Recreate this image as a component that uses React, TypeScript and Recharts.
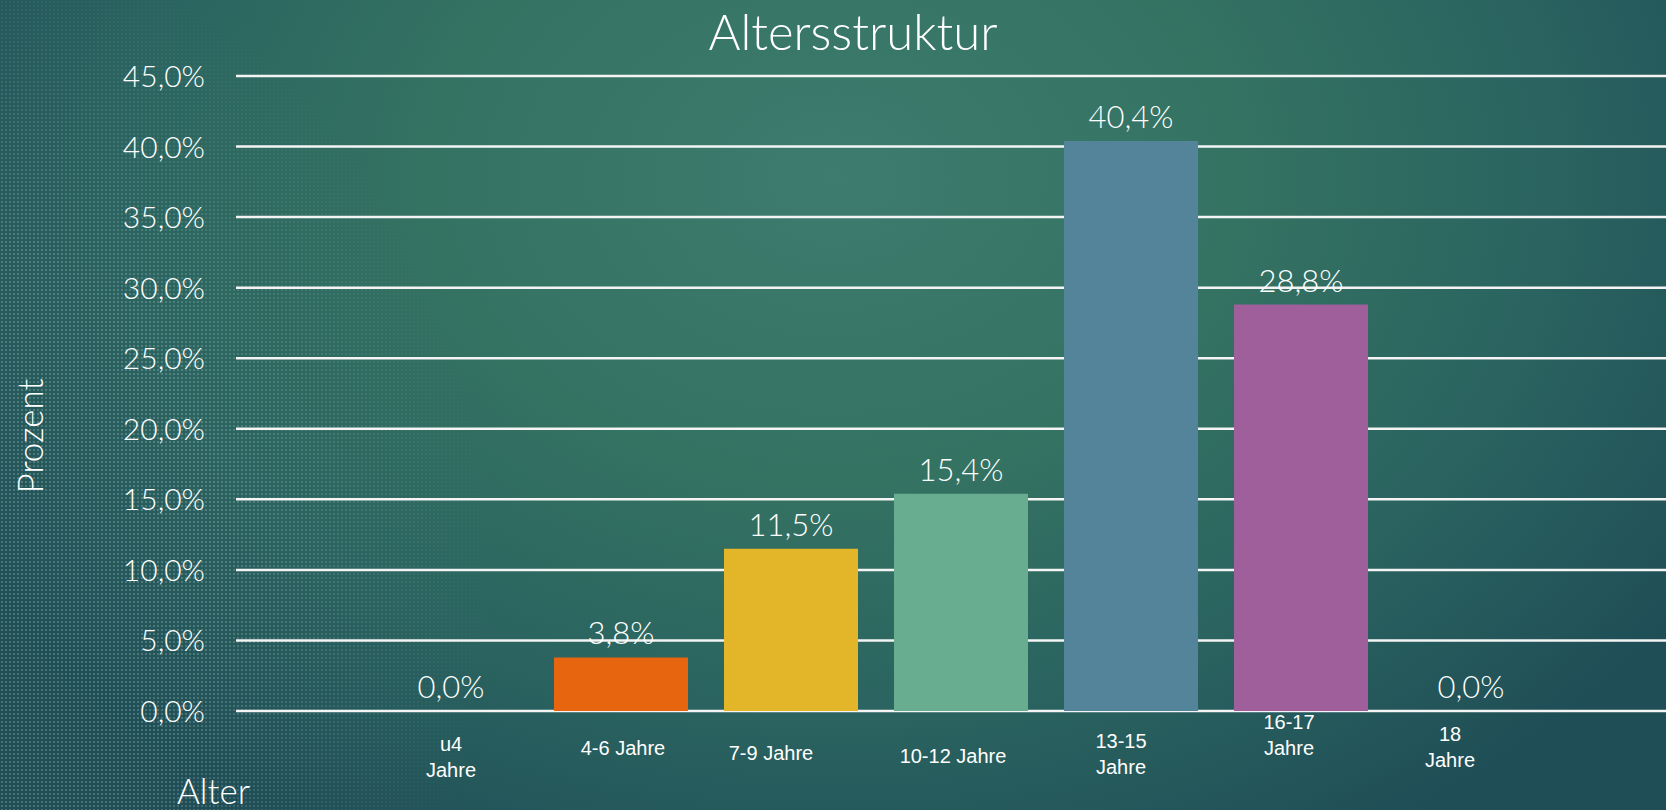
import { Bar, BarChart, CartesianGrid, Cell, ComposedChart, LabelList, Line, XAxis, YAxis } from "recharts";

const categories = ["u4 Jahre", "4-6 Jahre", "7-9 Jahre", "10-12 Jahre", "13-15 Jahre", "16-17 Jahre", "18 Jahre"];
const tickLines = [["u4", "Jahre"], ["4-6 Jahre"], ["7-9 Jahre"], ["10-12 Jahre"], ["13-15", "Jahre"], ["16-17", "Jahre"], ["18", "Jahre"]];
const shares = [0, 3.8, 11.5, 15.4, 40.4, 28.8, 0];
const yTicks = [0, 5, 10, 15, 20, 25, 30, 35, 40, 45];
const barColors = ["#E8650F", "#E8650F", "#E3B62A", "#69AD90", "#54849A", "#9E5F9B", "#9E5F9B"];

// PowerPoint placed the category labels a bit unevenly; keep that look
const tickShift = [
  { dx: 0, dy: 40 },
  { dx: 2, dy: 44 },
  { dx: -20, dy: 49 },
  { dx: -8, dy: 52 },
  { dx: -10, dy: 37 },
  { dx: -12, dy: 18 },
  { dx: -21, dy: 30 },
];

const data = categories.map((name, i) => ({ name, share: shares[i], idx: i }));

const thinFont = "Lato, 'Open Sans', sans-serif";
const pct = (v: number) => v.toFixed(1).replace(".", ",") + "%";

function CategoryTick(props: any) {
  const { x, y, index } = props;
  const lines = tickLines[index] ?? [];
  const s = tickShift[index] ?? { dx: 0, dy: 40 };
  return (
    <text
      x={x + s.dx}
      y={y + s.dy}
      textAnchor="middle"
      fill="#ffffff"
      fontFamily="'Liberation Sans', Arial, sans-serif"
      fontSize={20}
    >
      {lines.map((l, i) => (
        <tspan key={i} x={x + s.dx} dy={i === 0 ? 0 : 26}>
          {l}
        </tspan>
      ))}
    </text>
  );
}

function PercentTick(props: any) {
  const { x, y, payload } = props;
  return (
    <text x={x} y={y + 11} textAnchor="end" fill="#ffffff" fontFamily={thinFont} fontWeight={300} fontSize={30}>
      {pct(payload.value)}
    </text>
  );
}

// value labels sit on an invisible line so that the 0,0% entries get one too
function ValueLabel(props: any) {
  const { x, y, value } = props;
  return (
    <text x={x} y={y - 13} textAnchor="middle" fill="#ffffff" fontFamily={thinFont} fontWeight={300} fontSize={31}>
      {pct(Number(value))}
    </text>
  );
}

export default function App() {
  return (
    <div
      style={{
        position: "absolute",
        left: 0,
        top: 0,
        width: 1666,
        height: 810,
        overflow: "hidden",
        background:
          "radial-gradient(ellipse 62% 95% at 50% 22%, #3d7c6e 0%, #347262 40%, #2a6360 70%, #1f4e56 100%)",
      }}
    >
      <div
        style={{
          position: "absolute",
          left: 0,
          top: 0,
          width: 1666,
          height: 810,
          backgroundImage: "radial-gradient(circle, rgba(255,255,255,0.2) 0.8px, transparent 1.3px)",
          backgroundSize: "4px 4px",
          WebkitMaskImage: "radial-gradient(ellipse 560px 640px at -60px 560px, #000 50%, transparent 100%)",
          maskImage: "radial-gradient(ellipse 560px 640px at -60px 560px, #000 50%, transparent 100%)",
        }}
      />
      <ComposedChart
        width={1666}
        height={810}
        data={data}
        margin={{ top: 76, right: 0, bottom: 0, left: 0 }}
        style={{ position: "absolute", left: 0, top: 0 }}
      >
        <CartesianGrid vertical={false} stroke="#f4f4f4" strokeWidth={2.5} />
        <XAxis
          dataKey="name"
          height={99}
          axisLine={false}
          tickLine={false}
          tickSize={0}
          tickMargin={0}
          interval={0}
          padding={{ left: 130, right: 110 }}
          tick={<CategoryTick />}
        />
        <YAxis
          width={236}
          domain={[0, 45]}
          ticks={yTicks}
          axisLine={false}
          tickLine={false}
          tickSize={0}
          tickMargin={31}
          tick={<PercentTick />}
        />
        <Bar dataKey="share" barSize={134} isAnimationActive={false}>
          {data.map((d) => (
            <Cell key={d.name} fill={barColors[d.idx]} />
          ))}
        </Bar>
        <Line
          dataKey="share"
          stroke="none"
          dot={false}
          activeDot={false}
          legendType="none"
          isAnimationActive={false}
        >
          <LabelList dataKey="share" content={<ValueLabel />} />
        </Line>
      </ComposedChart>
      <svg width={1666} height={810} style={{ position: "absolute", left: 0, top: 0, pointerEvents: "none" }}>
        <text x={853} y={50} textAnchor="middle" fill="#ffffff" fontFamily={thinFont} fontWeight={300} fontSize={49}>
          Altersstruktur
        </text>
        <text
          x={43}
          y={436}
          transform="rotate(-90 43 436)"
          textAnchor="middle"
          fill="#ffffff"
          fontFamily={thinFont}
          fontWeight={300}
          fontSize={35}
        >
          Prozent
        </text>
        <text x={177} y={804} fill="#ffffff" fontFamily={thinFont} fontWeight={300} fontSize={35}>
          Alter
        </text>
      </svg>
    </div>
  );
}
